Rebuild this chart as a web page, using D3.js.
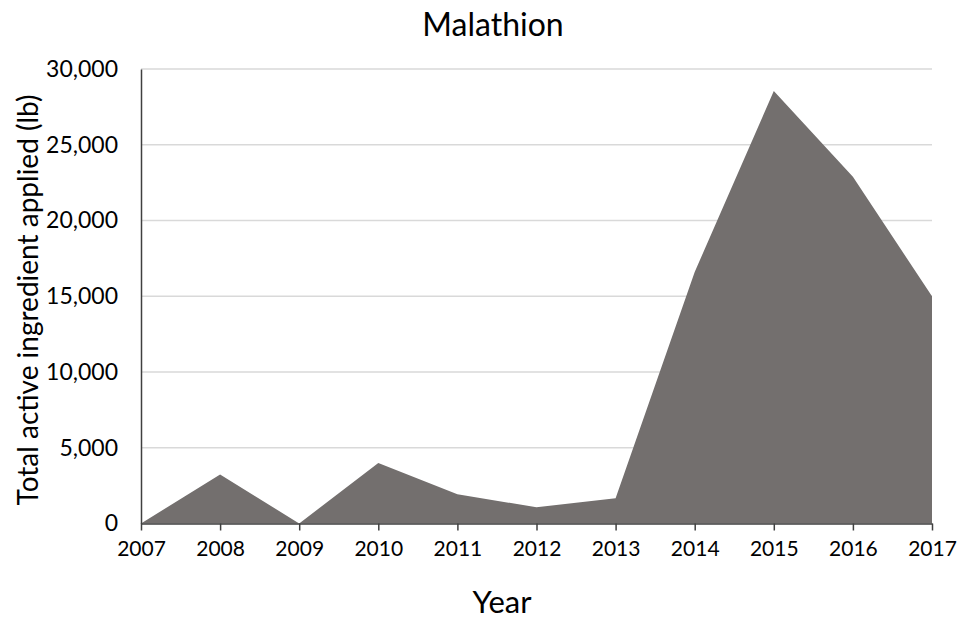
<!DOCTYPE html>
<html><head><meta charset="utf-8">
<script src="https://cdn.jsdelivr.net/npm/d3@7"></script>
<style>body{margin:0;background:#fff}svg{display:block}text{font-family:Lato,"Open Sans",sans-serif;fill:#000}</style>
</head><body><svg id="c" width="960" height="625"></svg>
<script>
const years = [2007,2008,2009,2010,2011,2012,2013,2014,2015,2016,2017];
const values = [0,3240,0,4000,1930,1070,1670,16600,28550,22880,15000];
const yTicks = [0,5000,10000,15000,20000,25000,30000];
const title = "Malathion";
const xTitle = "Year";
const yTitle = "Total active ingredient applied (lb)";

const svg = d3.select("#c");
const m = {l:141, r:932, t:69, b:523.5};
const x = d3.scaleLinear().domain([2007,2017]).range([m.l, m.r]);
const y = d3.scaleLinear().domain([0,30000]).range([m.b, m.t]);

// gridlines
svg.append("g").selectAll("line").data(yTicks.filter(d=>d>0)).join("line")
  .attr("x1", m.l).attr("x2", m.r).attr("y1", d=>y(d)).attr("y2", d=>y(d))
  .attr("stroke", "#d9d9d9").attr("stroke-width", 1.5);

// area
const data = years.map((yr,i)=>({yr, v:values[i]}));
svg.append("path").datum(data)
  .attr("d", d3.area().x(d=>x(d.yr)).y0(y(0)).y1(d=>y(d.v)))
  .attr("fill", "#736f6e");

// y axis
const ya = svg.append("g").attr("transform", `translate(${m.l},0)`)
  .call(d3.axisLeft(y).tickValues(yTicks).tickFormat(d3.format(",")).tickSize(0).tickPadding(23));
ya.select(".domain").attr("stroke", "#404040").attr("stroke-width", 1.5);
ya.selectAll("text").attr("font-size", 23).attr("font-family", "Lato, sans-serif");

// x axis
const xa = svg.append("g").attr("transform", `translate(0,${m.b})`)
  .call(d3.axisBottom(x).tickValues(years).tickFormat(d3.format("d")).tickSize(7).tickSizeOuter(0).tickPadding(11));
xa.select(".domain").attr("stroke", "#404040").attr("stroke-width", 1.5);
xa.selectAll(".tick line").attr("stroke", "#404040").attr("stroke-width", 1.5);
xa.selectAll("text").attr("font-size", 21).attr("font-family", "Lato, sans-serif");

svg.append("text").attr("x", 493).attr("y", 36).attr("text-anchor", "middle")
  .attr("font-size", 32).text(title);
svg.append("text").attr("x", 502).attr("y", 613).attr("text-anchor", "middle")
  .attr("font-size", 31).text(xTitle);
svg.append("text").attr("transform", "translate(38,300) rotate(-90)").attr("text-anchor", "middle")
  .attr("font-size", 28).text(yTitle);
</script></body></html>
